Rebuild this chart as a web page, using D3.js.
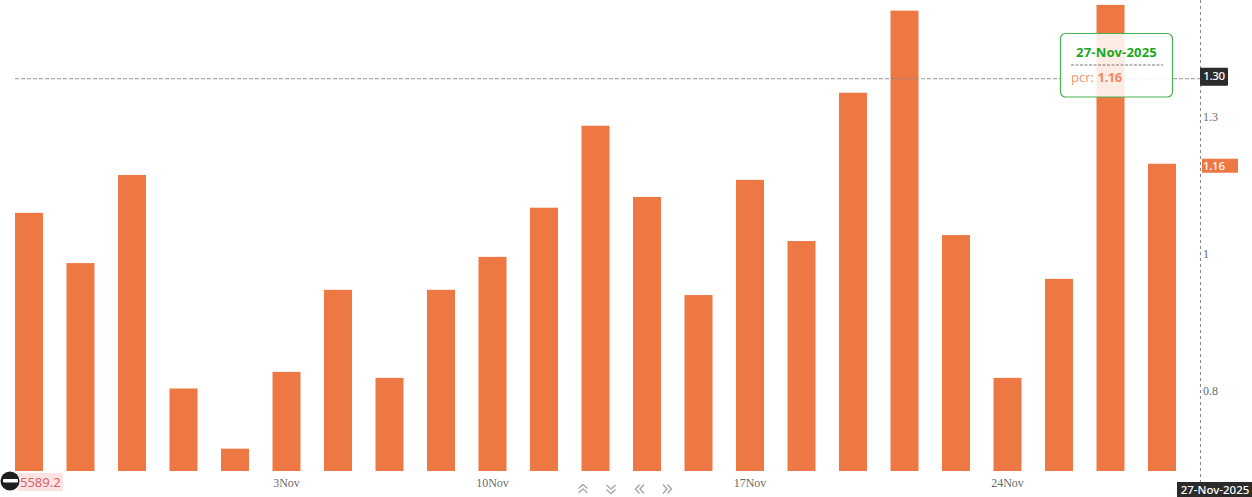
<!DOCTYPE html>
<html><head><meta charset="utf-8">
<script src="https://cdn.jsdelivr.net/npm/d3@7"></script>
<style>html,body{margin:0;padding:0;background:#fff;overflow:hidden}svg{display:block}</style>
</head><body><svg id="c" width="1252" height="497"></svg>
<script>
const dates=["27-Oct","28-Oct","29-Oct","30-Oct","31-Oct","3-Nov","4-Nov","6-Nov","7-Nov","10-Nov","11-Nov","12-Nov","13-Nov","14-Nov","17-Nov","18-Nov","19-Nov","20-Nov","21-Nov","24-Nov","25-Nov","26-Nov","27-Nov"];
const pcr=[1.069,0.985,1.137,0.803,0.728,0.825,0.943,0.817,0.943,0.995,1.078,1.232,1.097,0.935,1.128,1.021,1.300,1.486,1.031,0.817,0.960,1.500,1.158];
const xTickDates=["3-Nov","10-Nov","17-Nov","24-Nov"];
const xTickLabels=["3Nov","10Nov","17Nov","24Nov"];
const yTicks=[0.8,1,1.25];
const yTickLabels=["0.8","1","1.3"];
const crosshairValue=1.33;
const crosshairLabel="1.30";
const lastLabel="1.16";
const lastDate="27-Nov-2025";
const lowLabel="5589.2";
const seriesName="pcr";

const svg=d3.select("#c");
const serif="'Liberation Serif',serif", sans="'Noto Sans',sans-serif";
const x=d3.scaleBand().domain(dates).range([3.25,1187.75]).paddingInner(0.456).paddingOuter(0.228);
const y=d3.scaleLog().domain([0.702,1.512]).range([471,0]);
const orange="#ee7843";

svg.append("g").selectAll("rect").data(pcr).join("rect")
 .attr("x",(d,i)=>x(dates[i])).attr("width",x.bandwidth())
 .attr("y",d=>y(d)).attr("height",d=>471-y(d)).attr("fill",orange);

// crosshair
svg.append("line").attr("x1",15).attr("x2",1200).attr("y1",y(crosshairValue)).attr("y2",y(crosshairValue))
 .attr("stroke","#8a8a8a").attr("stroke-width",0.9).attr("stroke-dasharray","4 2");
svg.append("line").attr("x1",1200.5).attr("x2",1200.5).attr("y1",0).attr("y2",483)
 .attr("stroke","#888").attr("stroke-width",1).attr("stroke-dasharray","3 3");

// y axis
svg.append("g").selectAll("text").data(yTicks).join("text")
 .attr("x",1203).attr("y",d=>y(d)+4.5).attr("font-family",serif).attr("font-size",12).attr("fill","#6a6a6a")
 .text((d,i)=>yTickLabels[i]);

// x axis
svg.append("g").selectAll("text").data(xTickDates).join("text")
 .attr("x",d=>x(d)+x.bandwidth()/2).attr("y",487).attr("text-anchor","middle")
 .attr("font-family",serif).attr("font-size",12).attr("fill","#6a6a6a")
 .text((d,i)=>xTickLabels[i]);

// y-axis badges
const cy=y(crosshairValue);
svg.append("rect").attr("x",1200).attr("y",cy-11).attr("width",28).attr("height",18).attr("rx",1).attr("fill","#2b2b2b");
svg.append("text").attr("x",1214).attr("y",cy+1.5).attr("text-anchor","middle").attr("font-family",sans).attr("font-size",11.5).attr("font-weight",500).attr("fill","#fff").attr("letter-spacing",-0.4).text(crosshairLabel);
const ly=y(pcr[pcr.length-1]);
svg.append("rect").attr("x",1202).attr("y",ly-5).attr("width",36).attr("height",14).attr("fill",orange);
svg.append("text").attr("x",1203).attr("y",ly+6).attr("font-family",sans).attr("font-size",11.5).attr("font-weight",500).attr("fill","#fff").attr("letter-spacing",-0.3).text(lastLabel);

// date badge
svg.append("rect").attr("x",1177).attr("y",482).attr("width",75).attr("height",15).attr("fill","#2b2b2b");
svg.append("text").attr("x",1215).attr("y",494).attr("text-anchor","middle").attr("font-family",sans).attr("font-size",11.5).attr("font-weight",500).attr("fill","#fff").text(lastDate);

// tooltip
const t=svg.append("g");
t.append("rect").attr("x",1060.5).attr("y",33.5).attr("width",112).attr("height",63.5).attr("rx",5)
 .attr("fill","#fff").attr("fill-opacity",0.86).attr("stroke","#4caf50").attr("stroke-width",1.2);
t.append("text").attr("x",1116.5).attr("y",56.5).attr("text-anchor","middle").attr("font-family",sans).attr("font-size",13).attr("font-weight",700).attr("letter-spacing",0.2).attr("fill","#17a81e").text(lastDate);
t.append("line").attr("x1",1071).attr("x2",1163).attr("y1",65).attr("y2",65).attr("stroke","#777").attr("stroke-dasharray","3 1.5");
const tx=t.append("text").attr("x",1071).attr("y",81.5).attr("font-family",sans).attr("font-size",13).attr("fill","#ee9b78");
tx.append("tspan").text(seriesName+": ");
tx.append("tspan").attr("font-weight",700).attr("letter-spacing",-0.4).attr("fill","#ee8a5e").text(lastLabel);

// low-value marker
svg.append("rect").attr("x",18).attr("y",473).attr("width",45).attr("height",18).attr("fill","#fde3e3");
svg.append("text").attr("x",20).attr("y",486.5).attr("font-family",sans).attr("font-size",13).attr("fill","#d9626a").text(lowLabel);
svg.append("circle").attr("cx",10).attr("cy",481).attr("r",9.5).attr("fill","#1f1f1f");
svg.append("rect").attr("x",3).attr("y",479).attr("width",15).attr("height",3.5).attr("rx",1).attr("fill","#fff");

// nav icons
const chev=(cx,dir)=>{
 const g=svg.append("g").attr("transform",`translate(${cx},489) rotate(${dir})`).attr("fill","none").attr("stroke","#aaa").attr("stroke-width",1.5);
 g.append("path").attr("d","M-4.5,-0.5 L0,-4.5 L4.5,-0.5");
 g.append("path").attr("d","M-4.5,4 L0,0 L4.5,4");
};
chev(583,0);chev(611,180);chev(640,-90);chev(667,90);
</script></body></html>
